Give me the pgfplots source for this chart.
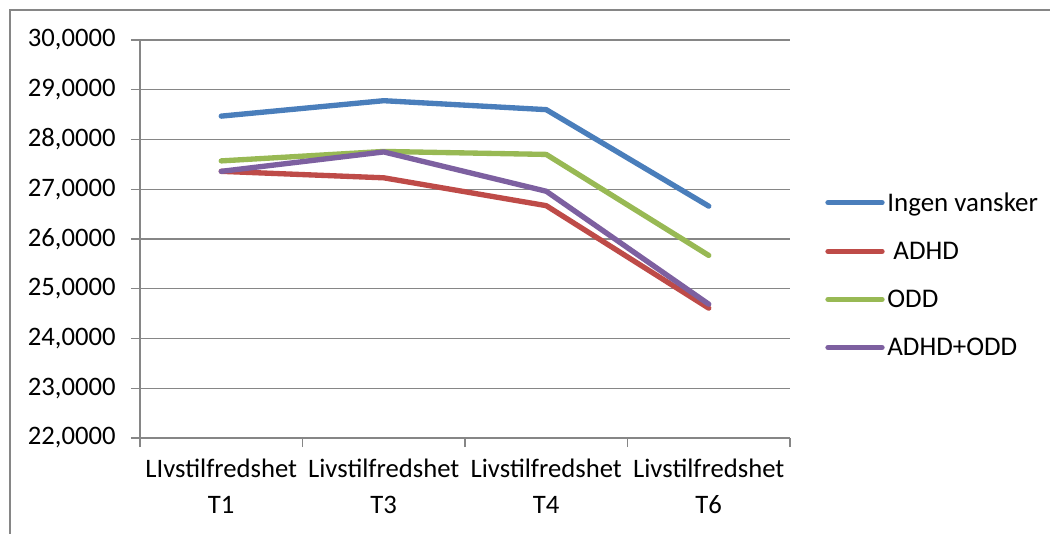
\documentclass[border=0pt]{standalone}
\usepackage{pgfplots}
\pgfplotsset{compat=1.18}
\usepackage{fontspec}
\setmainfont{Carlito}
\definecolor{cblue}{HTML}{4A7EBB}
\definecolor{cred}{HTML}{BE4B48}
\definecolor{cgreen}{HTML}{98B954}
\definecolor{cpurple}{HTML}{7D60A0}
\definecolor{gridgray}{HTML}{868686}
\begin{document}
\begin{tikzpicture}
\useasboundingbox (-105pt,-71.25pt) rectangle (682.5pt,328.5pt);
\draw[gridgray, line width=1.2pt] (-97.5pt,-90pt) -- (-97.5pt,321pt) -- (700pt,321pt);
\begin{axis}[
  at={(0,0)}, anchor=south west, scale only axis,
  width=487.5pt, height=298.5pt,
  xmin=-0.5, xmax=3.5, ymin=22, ymax=30,
  axis x line*=bottom, axis y line*=left,
  axis line style={-, gridgray, line width=1pt},
  ytick={22,23,...,30},
  ymajorgrids,
  grid style={gridgray, line width=1pt},
  tick style={gridgray, line width=1pt},
  tick align=outside,
  major tick length=6.75pt,
  yticklabel style={font=\fontsize{20}{22}\selectfont, text=black, xshift=-8pt,
    /pgf/number format/.cd, fixed, fixed zerofill, precision=4, use comma, assume math mode=true},
  xtick={-0.5,0.5,1.5,2.5,3.5},
  xticklabels={},
  extra x ticks={0,1,2,3},
  extra x tick labels={{LIvstilfredshet\\T1},{Livstilfredshet\\T3},{Livstilfredshet\\T4},{Livstilfredshet\\T6}},
  extra x tick style={major tick length=0pt, grid=none,
    xticklabel style={align=center, font=\fontsize{20}{27}\selectfont, text=black, yshift=-12pt}},
  legend style={at={(1.054,0.41)}, anchor=west, draw=none, fill=none,
    font=\fontsize{20.2}{22}\selectfont, row sep=17.5pt, inner sep=0pt},
  legend cell align=left,
  legend image code/.code={\draw[#1, line cap=round] (0pt,0pt) -- (40.5pt,0pt);},
]
\addplot[cblue, line width=4pt, line cap=round, line join=round] coordinates {(0,28.47) (1,28.78) (2,28.60) (3,26.66)};
\addlegendentry{Ingen vansker}
\addplot[cred, line width=4pt, line cap=round, line join=round] coordinates {(0,27.36) (1,27.23) (2,26.67) (3,24.61)};
\addlegendentry{\ ADHD}
\addplot[cgreen, line width=4pt, line cap=round, line join=round] coordinates {(0,27.57) (1,27.76) (2,27.70) (3,25.67)};
\addlegendentry{ODD}
\addplot[cpurple, line width=4pt, line cap=round, line join=round] coordinates {(0,27.36) (1,27.75) (2,26.96) (3,24.69)};
\addlegendentry{ADHD+ODD}
\end{axis}
\end{tikzpicture}
\end{document}
